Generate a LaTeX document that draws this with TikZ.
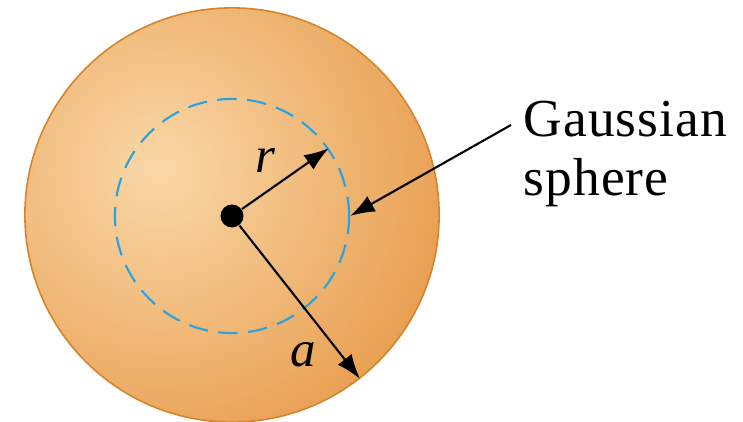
\documentclass[tikz,border=0pt]{standalone}
\usepackage{fontspec}
\setmainfont{Liberation Serif}
\newfontfamily\calloutfont{Liberation Serif}[LetterSpace=2]
\usetikzlibrary{arrows.meta,calc}

\definecolor{spherelight}{RGB}{250,216,168}
\definecolor{spheredark}{RGB}{232,158,80}
\definecolor{sphereborder}{RGB}{212,132,42}
\definecolor{gaussblue}{RGB}{38,163,224}

\tikzset{
  ptr/.style={-{Latex[length=7pt,width=5pt]},line width=0.6pt},
  lbl/.style={inner sep=0pt,font=\fontsize{14.5}{16}\selectfont\itshape},
}

\begin{document}
\begin{tikzpicture}[x=0.01cm,y=-0.01cm]
  \useasboundingbox (0,0) rectangle (743,422);
  % charged sphere
  \node[circle,minimum size=4.14cm,inner sep=0pt,draw=sphereborder,line width=0.45pt,
        path picture={\shade[inner color=spherelight,outer color=spheredark]
          ($(path picture bounding box.center)+(-72,-45)$) circle (300);}]
    (ball) at (232,215) {};
  % gaussian surface
  \node[circle,minimum size=2.34cm,inner sep=0pt,draw=gaussblue,line width=0.6pt,
        dash pattern=on 5.5pt off 3pt] (gsphere) at (232,216) {};
  \node[circle,fill=black,minimum size=0.23cm,inner sep=0pt] (dot) at (232,216) {};
  \draw[ptr] (dot) -- (gsphere.35);
  \draw[ptr] (dot) -- (ball.-52);
  \node[lbl] (rlab) at (265,160) {r};
  \node[lbl] (alab) at (303,355) {a};
  % callout
  \node[anchor=west,align=left,inner sep=0pt,
        font=\fontsize{15.2}{17}\calloutfont] (gauss) at (523,154) {Gaussian\\sphere};
  \coordinate (gstart) at (511,125);
  \draw[ptr] (gstart) -- (gsphere.east);
\end{tikzpicture}
\end{document}
